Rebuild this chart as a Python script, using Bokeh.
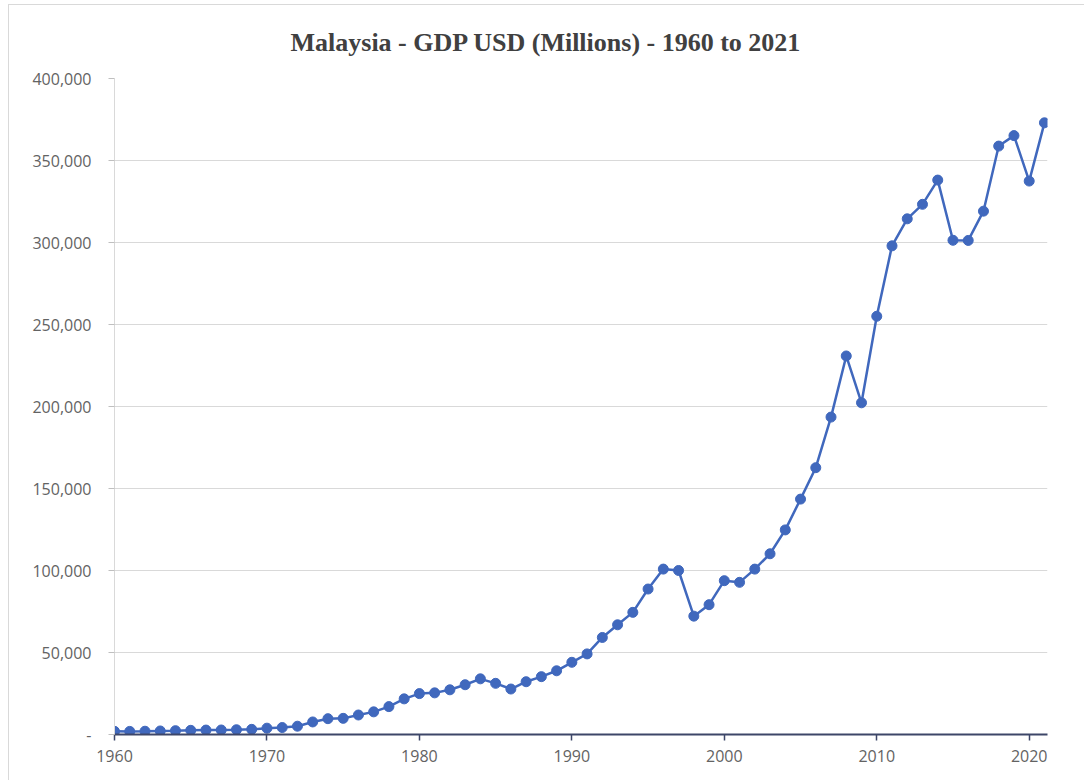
from bokeh.plotting import figure
from bokeh.models import ColumnDataSource, FixedTicker, Range1d, NumeralTickFormatter
from bokeh.embed import file_html
from bokeh.resources import INLINE

# Malaysia GDP, current USD (millions), 1960-2021
years = list(range(1960, 2022))
gdp_usd_millions = [
    1916, 1901, 2001, 2159, 2329, 2547, 2702, 2757, 2904, 3143,
    3864, 4244, 5055, 7659, 9650, 9849, 11892, 13809, 17000, 21730,
    24941, 25386, 27252, 30347, 33944, 31200, 27734, 32182, 35272, 38849,
    44025, 49143, 59167, 66895, 74478, 88705, 100855, 100005, 72168, 79149,
    93790, 92784, 100845, 110202, 124750, 143534, 162691, 193548, 230814, 202258,
    255017, 297952, 314443, 323277, 338062, 301355, 301256, 319109, 358789, 365178,
    337456, 372981,
]

x_ticks = [1960, 1970, 1980, 1990, 2000, 2010, 2020]
y_ticks = [0, 50000, 100000, 150000, 200000, 250000, 300000, 350000, 400000]
y_tick_labels = ["-", "50,000", "100,000", "150,000", "200,000",
                 "250,000", "300,000", "350,000", "400,000"]

title_text = "Malaysia - GDP USD (Millions) - 1960 to 2021"

LINE_BLUE = "#4068BD"
GRID_GREY = "#d9d9d9"
LABEL_GREY = "#636363"

source = ColumnDataSource(data=dict(year=years, gdp=gdp_usd_millions))

p = figure(
    width=1076, height=776,
    output_backend="svg", toolbar_location=None,
    x_range=Range1d(1960, 2021.2), y_range=Range1d(0, 400000),
    min_border_left=105, min_border_right=38,
    min_border_top=73, min_border_bottom=47,
    background_fill_color="white", border_fill_color="white",
)
p.margin = (4, 0, 0, 8)
p.styles = {"border-left": "1px solid #d9d9d9", "border-top": "1px solid #d9d9d9"}
p.outline_line_color = None

# chart title
p.title.text = title_text
p.title.align = "left"
p.title.vertical_align = "top"
p.title.offset = 176
p.title.text_font = "Liberation Serif"
p.title.text_font_style = "bold"
p.title.text_font_size = "26px"
p.title.text_color = "#404040"
p.title.standoff = 40

# grid
p.xgrid.grid_line_color = None
p.ygrid.grid_line_color = GRID_GREY
p.ygrid.grid_line_width = 1
p.ygrid.ticker = FixedTicker(ticks=y_ticks)

# y axis
p.yaxis.ticker = FixedTicker(ticks=y_ticks)
p.yaxis.formatter = NumeralTickFormatter(format="0,0")
p.yaxis.major_label_overrides = {t: lab for t, lab in zip(y_ticks, y_tick_labels)}
p.yaxis.axis_line_color = GRID_GREY
p.yaxis.major_tick_line_color = "#bfbfbf"
p.yaxis.major_tick_out = 6
p.yaxis.major_tick_in = 0
p.yaxis.minor_tick_line_color = None
p.yaxis.major_label_standoff = 17
p.yaxis.major_label_text_font = "Open Sans"
p.yaxis.major_label_text_font_size = "16px"
p.yaxis.major_label_text_color = LABEL_GREY

# x axis
p.xaxis.ticker = FixedTicker(ticks=x_ticks)
p.xaxis.axis_line_color = "#3d4668"
p.xaxis.axis_line_width = 2
p.xaxis.major_tick_line_color = "#3d4668"
p.xaxis.major_tick_line_width = 1.5
p.xaxis.major_tick_out = 6
p.xaxis.major_tick_in = 0
p.xaxis.minor_tick_line_color = None
p.xaxis.major_label_standoff = 9
p.xaxis.major_label_text_font = "Open Sans"
p.xaxis.major_label_text_font_size = "16px"
p.xaxis.major_label_text_color = LABEL_GREY

# series
p.line("year", "gdp", source=source, line_color=LINE_BLUE, line_width=2.5)
p.scatter("year", "gdp", source=source, size=10, marker="circle",
          fill_color=LINE_BLUE, line_color=LINE_BLUE)

open("out.html", "w").write(file_html(p, INLINE))
